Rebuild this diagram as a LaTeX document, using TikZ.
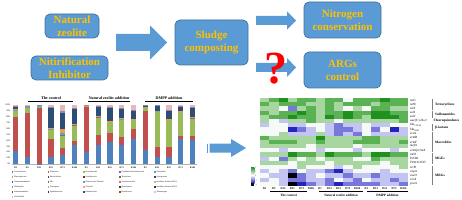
\documentclass[tikz,border=0pt]{standalone}
\usepackage{fontspec}
\setmainfont{Liberation Serif}
\definecolor{boxblue}{HTML}{5B9BD5}
\definecolor{boxborder}{HTML}{41719C}
\definecolor{gold}{HTML}{FFC000}
% bar colours
\definecolor{bc1}{HTML}{4F81BD}
\definecolor{bc2}{HTML}{C0504D}
\definecolor{bc3}{HTML}{9BBB59}
\definecolor{bc4}{HTML}{8064A2}
\definecolor{bc5}{HTML}{4BACC6}
\definecolor{bc6}{HTML}{F79646}
\definecolor{bc7}{HTML}{2C4D75}
\definecolor{bc8}{HTML}{9983B5}
\definecolor{bcpink}{HTML}{E6B9B8}
% heatmap colours
\definecolor{c3}{RGB}{30,145,30}
\definecolor{c2}{RGB}{90,178,85}
\definecolor{c1}{RGB}{168,214,160}
\definecolor{c0}{RGB}{246,250,246}
\definecolor{cm1}{RGB}{196,196,242}
\definecolor{cm2}{RGB}{120,120,220}
\definecolor{cm3}{RGB}{36,36,188}
\definecolor{cm4}{RGB}{0,0,0}
\newcommand\mybar[2]{%
  \fill[bcpink] ({#1-2.6},164) rectangle ({#1+2.6},105);%
  \xdef\cum{0}%
  \foreach \v [count=\i] in #2{%
    \pgfmathsetmacro\ya{164-0.59*\cum}%
    \pgfmathsetmacro\yb{164-0.59*(\cum+\v)}%
    \fill[bc\i] ({#1-2.6},\ya) rectangle ({#1+2.6},\yb);%
    \pgfmathsetmacro\nc{\cum+\v}%
    \xdef\cum{\nc}%
  }%
}
\newcommand\blockarrow[6]{% x1, x2(head start), x3(tip), yc, body half, head half
  \fill[boxblue] (#1,{#4-#5}) -- (#2,{#4-#5}) -- (#2,{#4-#6}) -- (#3,#4) -- (#2,{#4+#6}) -- (#2,{#4+#5}) -- (#1,{#4+#5}) -- cycle;%
}
\begin{document}
\begin{tikzpicture}[x=1pt,y=-1pt,
  box/.style={draw=boxborder, fill=boxblue, rounded corners=5pt, line width=0.7pt,
    text=gold, font=\bfseries\fontsize{11}{13}\selectfont, align=center, inner sep=0pt},
  ylab/.style={anchor=east, inner sep=0pt, font=\fontsize{2.2}{2.5}\selectfont},
  xlab/.style={inner sep=0pt, font=\bfseries\fontsize{2.3}{2.5}\selectfont},
  grplab/.style={inner sep=0pt, font=\bfseries\fontsize{4}{4.5}\selectfont},
  leglab/.style={anchor=west, inner sep=0pt, font=\fontsize{2}{2.3}\selectfont},
  rowlab/.style={anchor=west, inner sep=0pt, font=\itshape\fontsize{3.2}{3.4}\selectfont},
  catlab/.style={anchor=west, inner sep=0pt, font=\bfseries\fontsize{3.4}{3.7}\selectfont},
  hxlab/.style={inner sep=0pt, font=\bfseries\fontsize{2.8}{3}\selectfont},
  hglab/.style={inner sep=0pt, font=\bfseries\fontsize{3.3}{3.6}\selectfont}]
\useasboundingbox (0,0) rectangle (462,200);
\fill[white] (0,0) rectangle (462,200);

% ---------- top flow ----------
\node[box, minimum width=54pt, minimum height=24pt] (zeo) at (72,26) {Natural\\zeolite};
\node[box, minimum width=77pt, minimum height=24pt] (nit) at (69.5,68) {Nitirification\\Inhibitor};
\node[box, minimum width=73pt, minimum height=45pt] (slu) at (211.5,42.5) {Sludge\\composting};
\node[box, minimum width=77pt, minimum height=36pt] (nitro) at (342.5,20) {Nitrogen\\conservation};
\node[box, minimum width=77pt, minimum height=36pt] (args) at (342.5,70) {ARGs\\control};
\blockarrow{116}{150}{167}{42.5}{8.5}{17}
\blockarrow{256}{287}{296}{20.5}{4.5}{9}
\blockarrow{256}{287}{296}{67.5}{4.5}{9.5}
\node[text=red, inner sep=0pt, font=\bfseries\fontsize{46}{46}\selectfont] (q) at (276,68.5) {?};

% ---------- bar chart ----------
\foreach \p in {0,10,...,100} \node[ylab] (yl\p) at (10.5,{164-0.59*\p}) {\p\%};
\draw[gray!60, line width=0.3pt] (11.5,164) -- (197,164);
\foreach \vals [count=\k] in {
  {22,58,10,1,1,2,3,2},{12,74,10,0.5,0.5,0.5,1,0.5},{0.5,95.5,1,0.5,0.5,0,1.5,0.5},
  {12,31,16,0.5,0.5,0.5,36,0.5},{16,11,22,1,3,6,27,4},{32,7,27,0.5,0.5,0.5,27,0.5},
  {20,77,1.5,0,0,0.5,0.5,0.5},{32,18,30,0.5,0.5,0.5,15.5,0.5},{38,15,19,0.5,0.5,0.5,23,0.5},
  {32,13,30,1,0.5,1,16,1},{43,17,15,0.5,0.5,0.5,15,0.5},
  {23,67,8,0.5,0,0,0.5,0.5},{12,17,61,0,0,0,9.5,0.5},{12,16,47,0.5,0.5,0.5,15,0.5},
  {42,5,42,0.5,0.5,0.5,6.5,0.5},{40,8,29,1,1,0.5,16,0.5}}{
  \pgfmathsetmacro\bx{15.5+11.8*(\k-1)}
  \mybar{\bx}{\vals}
}
\foreach \lab [count=\k] in {D1,D3,D13,D21,D73,D106,D1,D13,D21,D73,D106,D1,D13,D21,D73,D106}
  \node[xlab] (bx\k) at ({15.5+11.8*(\k-1)},167.3) {\lab};
\node[grplab] (g1) at (51,98.6) {The control};
\draw[line width=0.5pt] (28,101.6) -- (73,101.6);
\node[grplab] (g2) at (109,98.6) {Natural zeolite addition};
\draw[line width=0.5pt] (88,101.6) -- (130,101.6);
\node[grplab] (g3) at (169,98.6) {DMPP addition};
\draw[line width=0.5pt] (145,101.6) -- (193,101.6);
% legend
\foreach \name/\col [count=\n from 0] in {
  Actinobacteria/4F81BD, Firmicutes/C0504D, Proteobacteria/9BBB59, Candidatus Saccharibacteria/8064A2, Chloroflexi/4BACC6,
  Planctomycetes/F79646, Bacteroidetes/2C4D75, Acidobacteria/772C2A, Tenericutes/5F7530, Synergistetes/4D3B62,
  Gemmatimonadetes/276A7C, SR1/B65708, Deinococcus-Thermus/729ACA, Verrucomicrobia/CD7371, candidate division WPS-1/AFC97A,
  Chlamydiae/9983B5, Nitrospirae/6FBDD1, Chlorobi/F9AB6B, Spirochaetes/254061, candidate division WPS-2/632523,
  Armatimonadetes/4F6228, Ignavibacteriae/3F3151, Elusimicrobia/215968, Fusobacteria/984807, Thermotogae/B9CDE5,
  Unclassified/E6B9B8}{
  \pgfmathtruncatemacro\lc{mod(\n,5)}
  \pgfmathtruncatemacro\lr{div(\n,5)}
  \pgfmathsetmacro\lx{{11.5,47.5,83,119,154}[\lc]}
  \pgfmathsetmacro\ly{171.8+5*\lr}
  \definecolor{legc}{HTML}{\col}
  \fill[legc] (\lx,\ly-0.8) rectangle ++(1.6,1.6);
  \node[leglab] (lg\n) at (\lx+2.4,\ly) {\name};
}

% ---------- middle arrow ----------
\fill[boxblue] (207,143.5) rectangle (208.4,152.5);
\blockarrow{209.6}{231}{246}{148}{4.5}{9}

% ---------- heatmap ----------
\foreach \row [count=\r] in {
 {c1,c2,c3,c1,c2,c2,c1,c2,c2,c0,c2,c2,c2,c3,c2,c2},
 {c2,c1,c2,c2,c2,c1,c1,c2,c1,c2,c2,c2,c1,c2,c2,c2},
 {c1,c1,c0,cm2,c1,c2,c1,c2,c1,c0,c1,c0,c2,c2,c1,c1},
 {c2,c1,c2,c2,c3,c2,c1,c2,c2,c3,c2,c2,c3,c3,c2,c2},
 {c1,c2,c2,c3,c2,c2,c1,c3,c2,c3,c2,c1,c3,c3,c3,c2},
 {c1,c0,cm1,c1,c1,c2,c1,c1,c0,c1,c1,c1,c1,c1,c1,c2},
 {cm1,c0,c0,cm1,cm1,c0,c0,cm1,cm2,cm1,cm1,c0,cm1,cm1,c0,c0},
 {c0,c0,c0,cm3,cm2,cm1,c0,cm1,cm2,cm2,cm1,c0,cm2,c0,cm3,cm1},
 {c0,c0,c1,cm1,cm1,cm1,c1,cm1,cm2,cm1,cm2,c0,cm1,cm1,cm1,cm1},
 {c2,c1,c1,c1,c1,c1,c3,c1,c1,c1,c1,c2,c2,c1,c1,c1},
 {c1,c2,c2,c2,c1,c1,c2,c1,c1,c1,c2,c2,c2,c1,c1,c2},
 {c1,c1,c1,c1,c1,c0,c1,c1,c1,c1,c0,c1,c1,c1,c1,c1},
 {c0,c0,cm1,c0,c0,c0,cm1,c0,c0,c0,cm1,c0,c0,c0,cm1,c0},
 {c1,c1,c1,c3,c2,c2,c1,c3,c2,c2,c2,c1,c3,c3,c2,c2},
 {cm1,c0,cm2,c1,c0,c1,c0,c1,c1,c1,c0,c0,c2,c1,c1,c1},
 {c1,c1,c1,c0,c1,c1,c1,c0,c1,c1,c1,c1,c1,c0,c1,c1},
 {c0,c0,c0,c0,c1,c0,c0,c0,cm1,c0,c1,c0,c0,c0,c0,c1},
 {cm1,c0,cm1,cm2,c0,cm1,cm1,cm2,cm3,cm1,c0,c0,c0,cm1,c0,c0},
 {c0,cm1,cm1,cm4,cm2,cm1,c0,cm1,cm1,cm2,cm1,cm1,cm2,cm1,cm1,cm1},
 {cm1,c0,cm1,cm2,cm2,cm1,cm1,cm2,c0,cm1,cm2,c0,cm1,cm1,cm2,cm1},
 {c0,c0,cm1,cm4,cm3,cm2,cm1,cm2,cm3,cm2,cm2,cm2,cm2,cm1,cm1,cm2}}{
  \foreach \c [count=\k] in \row {
    \fill[\c] ({260+9.25*(\k-1)},{98+4.19*(\r-1)}) rectangle ++(9.3,4.24);
  }
}
\foreach \lab [count=\r] in {tetG,tetW,tetX,sul1,sul2,aac(6')-Ib-cr,{bla\textsubscript{CTX-M}},{bla\textsubscript{TEM}},
  ereA,ermB,ermF,mefA,ermQ/ermX,intI1,ISCR1,Tn916/1545,tcrB,copA,cueO,czcA,pcoA}
  \node[rowlab] (rl\r) at (410,{98+4.19*(\r-0.5)}) {\lab};
% category brackets
\foreach \a/\b in {1/3,4/5,7/8,9/13,14/16,17/21}
  \draw[gray, line width=0.5pt] (432,{98+4.19*(\a-1)+0.6}) -- (432,{98+4.19*\b-0.6});
\node[catlab] (k1) at (435,104.3) {Tetracyclines};
\node[catlab] (k2) at (435,114.8) {Sulfonamides};
\node[catlab] (k3) at (433.5,121) {Fluoroquinolones};
\node[catlab] (k4) at (435,127.3) {β-lactam};
\node[catlab] (k5) at (435,142) {Macrolides};
\node[catlab] (k6) at (435,158.8) {MGEs};
\node[catlab] (k7) at (435,175.5) {MRGs};
% colour key
\shade[top color=c3, bottom color=cm3, middle color=white] (251,167) rectangle (254.4,183);
\fill[cm4!70!cm3] (251,183) rectangle (254.4,185.5);
\foreach \t [count=\i] in {2,1,0,-1,-2}
  \node[anchor=west, inner sep=0pt, font=\fontsize{1.8}{2}\selectfont] (ck\i) at (255,{168+4.2*(\i-1)}) {\t};
% column labels
\foreach \lab [count=\k] in {D1,D3,D13,D21,D73,D106,D1,D13,D21,D73,D106,D1,D13,D21,D73,D106}
  \node[hxlab] (hx\k) at ({260+9.25*(\k-0.5)},188.4) {\lab};
\draw[line width=0.45pt] (270,191.2) -- (307,191.2);
\draw[line width=0.45pt] (319,191.2) -- (363,191.2);
\draw[line width=0.45pt] (367,191.2) -- (408,191.2);
\node[hglab] (h1) at (288.5,195) {The control};
\node[hglab] (h2) at (341,195) {Natural zeolite addition};
\node[hglab] (h3) at (387.5,195) {DMPP addition};
\end{tikzpicture}
\end{document}
